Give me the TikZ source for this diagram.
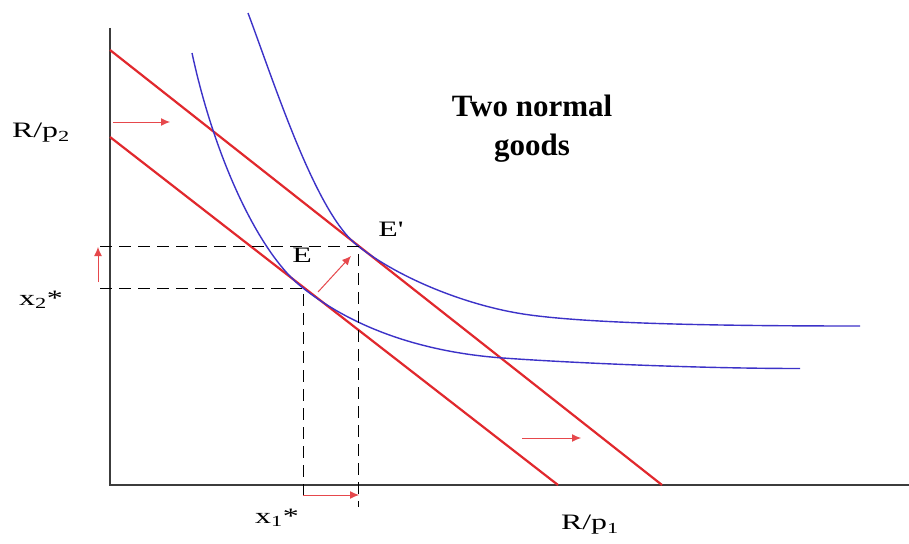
\documentclass[tikz,border=0pt]{standalone}
\usepackage{fontspec}
\setmainfont{Liberation Serif}
\usetikzlibrary{arrows.meta}
\definecolor{budget}{RGB}{225,40,45}
\definecolor{icblue}{RGB}{60,50,200}
\definecolor{axisgray}{RGB}{60,60,60}
\tikzset{
  axisline/.style={draw=axisgray,line width=1.8pt},
  budgetline/.style={draw=budget,line width=2.2pt},
  icurve/.style={draw=icblue,line width=1.4pt},
  guide/.style={draw=black,line width=1pt,dash pattern=on 12pt off 7pt},
  shiftarrow/.style={draw=budget!85,line width=1pt,-{Latex[length=9pt,width=8pt]}},
  lbl/.style={font=\fontsize{22}{25}\selectfont,inner sep=0pt},
  title/.style={font=\fontsize{31}{39}\selectfont\bfseries,align=center,inner sep=0pt}
}
\newcommand{\wide}[1]{\scalebox{1.45}[1]{#1}}
\begin{document}
\begin{tikzpicture}[x=1pt,y=-1pt]
\fill[white] (0,0) rectangle (909,543);
\useasboundingbox (0,0) rectangle (909,543);
% axes
\coordinate (O) at (110,485);
\coordinate (Ytop) at (110,28);
\coordinate (Xend) at (909,485);
\draw[axisline] (Ytop) -- (O) -- (Xend);
% budget lines
\coordinate (B2a) at (110,50);
\coordinate (B2b) at (662,485);
\coordinate (B1a) at (110,137);
\coordinate (B1b) at (558,485);
\draw[budgetline] (B2a) -- (B2b);
\draw[budgetline] (B1a) -- (B1b);
% equilibrium points
\coordinate (E) at (303,288);
\coordinate (Ep) at (358,246);
% indifference curves
\coordinate (I1top) at (192,53);
\coordinate (I1mid) at (503,358);
\coordinate (I1end) at (800,368.5);
\draw[icurve] (I1top) .. controls (215,160) and (260,255) .. (E)
  .. controls (360,333) and (433,353) .. (I1mid)
  .. controls (573,363) and (700,368.5) .. (I1end);
\coordinate (I2top) at (248,13);
\coordinate (I2mid) at (530,315);
\coordinate (I2end) at (860,326);
\draw[icurve] (I2top) .. controls (275,85) and (316,214) .. (Ep)
  .. controls (400,279) and (470,307) .. (I2mid)
  .. controls (590,323) and (700,326) .. (I2end);
% guides
\coordinate (Hy1) at (100,246);
\coordinate (Hy0) at (100,288);
\coordinate (Vx0) at (303,497);
\coordinate (Vx1) at (358,507);
\draw[guide] (Hy1) -- (Ep) -- (Vx1);
\draw[guide] (Hy0) -- (E) -- (Vx0);
% shift arrows
\coordinate (a1s) at (113,122); \coordinate (a1e) at (170,122);
\coordinate (a2s) at (98,282);  \coordinate (a2e) at (98,247);
\coordinate (a3s) at (318,292); \coordinate (a3e) at (351,256);
\coordinate (a4s) at (303,495); \coordinate (a4e) at (359,495);
\coordinate (a5s) at (522,438); \coordinate (a5e) at (581,438);
\draw[shiftarrow] (a1s) -- (a1e);
\draw[shiftarrow] (a2s) -- (a2e);
\draw[shiftarrow] (a3s) -- (a3e);
\draw[shiftarrow] (a4s) -- (a4e);
\draw[shiftarrow] (a5s) -- (a5e);
% labels
\node[lbl] (lRp2) at (41,133) {\wide{R/p\textsubscript{2}}};
\node[lbl] (lx2) at (41,300) {\wide{x\textsubscript{2}*}};
\node[lbl] (lE) at (302,255) {\wide{E}};
\node[lbl] (lEp) at (391,229) {\wide{E\textquotesingle}};
\node[lbl] (lx1) at (277,518) {\wide{x\textsubscript{1}*}};
\node[lbl] (lRp1) at (590,525) {\wide{R/p\textsubscript{1}}};
\node[title] (ttl) at (532,129) {Two normal\\goods};
\end{tikzpicture}
\end{document}
